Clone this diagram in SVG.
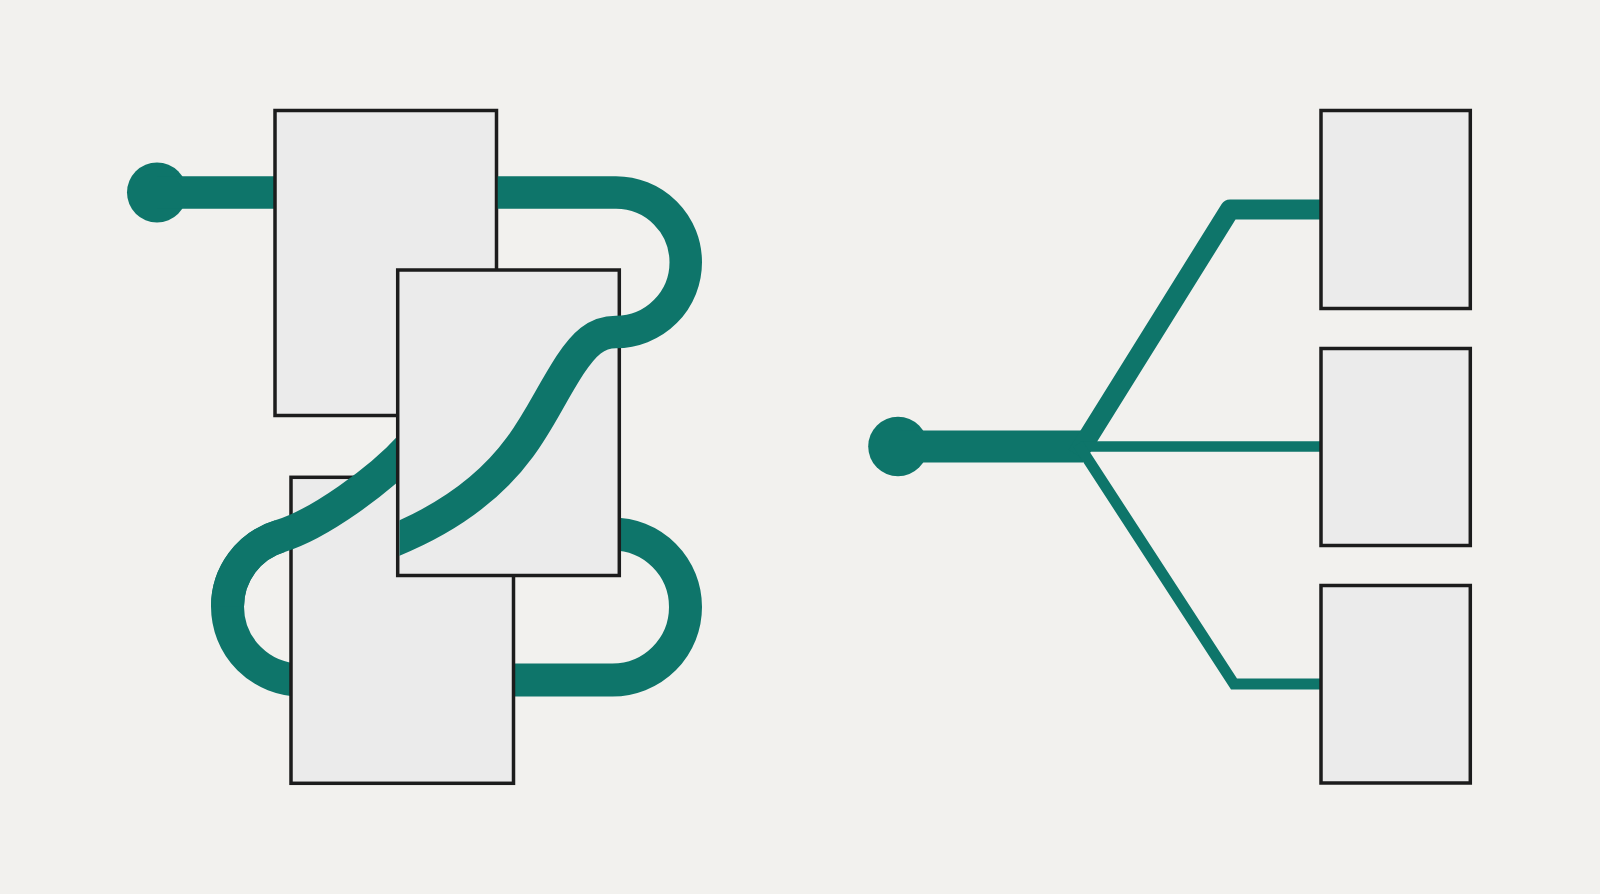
<svg xmlns="http://www.w3.org/2000/svg" width="1600" height="894" viewBox="0 0 1600 894">
<defs>
<style>
.box{fill:#ebebeb;stroke:#1c1c1c;stroke-width:3.5}
.g{fill:none;stroke:#0e756a;stroke-linecap:butt}
.dot{fill:#0e756a}
</style>
<clipPath id="clipB"><rect x="399.5" y="0" width="1200" height="894"/></clipPath>
</defs>
<rect width="1600" height="894" fill="#f2f1ee"/>

<g id="connectors-back">
  <circle class="dot" cx="157" cy="192.5" r="30"/>
  <path class="g" stroke-width="32.5" d="M157 192.5 H290"/>
  <path class="g" stroke-width="33" d="M280 536.1 A73.5 73.5 0 0 0 227.5 606.5 A73.5 73.5 0 0 0 301 680 L612.5 680 A73 73 0 0 0 685.5 607 A73 73 0 0 0 612.5 534 L590 534"/>
</g>

<g id="node-a"><rect class="box" x="275" y="110.5" width="221.5" height="305"/></g>
<g id="node-c"><rect class="box" x="291" y="477.3" width="222.5" height="306"/></g>

<g id="connectors-mid">
  <path class="g" stroke-width="33" d="M410 447 C379.9 480.3 318.3 524.5 280 536.1 A73.5 73.5 0 0 0 227.5 606.5"/>
</g>

<g id="node-b"><rect class="box" x="397.7" y="270" width="221.6" height="305.5"/></g>

<g id="connectors-front" clip-path="url(#clipB)">
  <path class="g" stroke-width="32.5" d="M497.75 192.5 H616 A69.75 69.75 0 0 1 616 332 C596 332 584 344 570 365 C550 396 540 420 520 447 C490 488 445 520 390 542"/>
</g>

<g id="connectors-right">
  <circle class="dot" cx="898" cy="446.5" r="29.8"/>
  <path class="g" stroke-width="32" d="M897 446.5 H1083"/>
  <path class="g" stroke-width="20" stroke-linejoin="round" d="M1077 455 L1230 209.5 L1322 209.5"/>
  <path class="g" stroke-width="10.7" d="M1080 446.5 H1322"/>
  <path class="g" stroke-width="11" d="M1078 444 L1234 684 L1322 684"/>
</g>

<g id="node-r1"><rect class="box" x="1321" y="110.5" width="149.3" height="198"/></g>
<g id="node-r2"><rect class="box" x="1321" y="348.5" width="149.3" height="197"/></g>
<g id="node-r3"><rect class="box" x="1321" y="585.5" width="149.3" height="197.5"/></g>
</svg>
